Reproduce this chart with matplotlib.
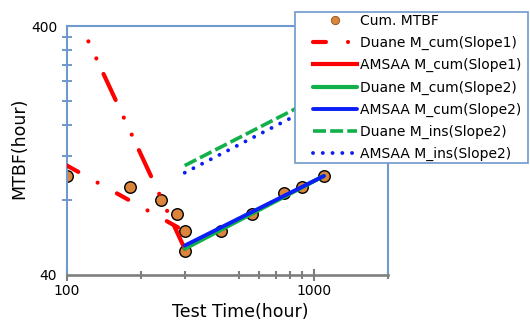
import matplotlib
matplotlib.use('Agg')
import matplotlib.pyplot as plt
from matplotlib.lines import Line2D
from matplotlib.patches import Rectangle
from matplotlib.ticker import NullFormatter

# cumulative MTBF observations
test_time = [100, 180, 240, 280, 300, 300, 420, 560, 760, 900, 1100]
cum_mtbf = [100, 90, 80, 70, 60, 50, 60, 70, 85, 90, 100]

# slope 1 fits (before t=300)
duane_t1 = [100, 300]
duane_cum1 = [110, 60]
amsaa_t1 = [120, 300]
amsaa_cum1 = [360, 51]

# slope 2 fits (after t=300)
t2 = [300, 1100]
duane_cum2 = [51, 100]
amsaa_cum2 = [52.5, 100]
duane_ins2 = [110, 213]
amsaa_ins2 = [103, 200]

x_major = [100, 1000]
x_major_labels = ['100', '1000']
x_minor = [200, 300, 500, 600, 700, 800, 900, 2000]
y_major = [40, 400]
y_major_labels = ['40', '400']
y_minor = [80, 120, 160, 200, 240, 280, 320, 360]

blue_axis = '#7099CD'
grey_axis = '#7F7F7F'
orange = '#DB853C'
red = '#FF0000'
green = '#12B04A'
blue = '#0A1EF5'

fig = plt.figure(figsize=(5.3, 3.22), dpi=100)
ax = fig.add_axes([67/530, 1-275/322, 321/530, 249/322])

ax.plot(test_time, cum_mtbf, ls='none', marker='o', ms=8.3, mfc=orange,
        mec='black', mew=1.0, zorder=2)

l_duane1, = ax.plot(duane_t1, duane_cum1, color=red, lw=3,
                    dashes=[3.1, 5.3, 0.01, 5.3], dash_capstyle='round', zorder=3)
ax.plot(amsaa_t1, amsaa_cum1, color=red, lw=3,
        linestyle=(10.5, (6.9, 4.65, 0.01, 4.5, 0.01, 4.1)),
        dash_capstyle='round', zorder=3)
l_duane2, = ax.plot(t2, duane_cum2, color=green, lw=3, solid_capstyle='round', zorder=3)
l_amsaa2, = ax.plot(t2, amsaa_cum2, color=blue, lw=2.8, solid_capstyle='round', zorder=4)
l_dins2, = ax.plot(t2, duane_ins2, color=green, lw=2.6, dashes=[3.6, 1.15], zorder=3)
l_ains2, = ax.plot(t2, amsaa_ins2, color=blue, lw=2.8, dashes=[0.01, 2.5],
                   dash_capstyle='round', zorder=3)

ax.set_xscale('log')
ax.set_yscale('log')
ax.set_xlim(100, 2000)
ax.set_ylim(40, 400)

ax.set_xticks(x_major, x_major_labels)
ax.set_xticks(x_minor, minor=True)
ax.xaxis.set_minor_formatter(NullFormatter())
ax.set_yticks(y_major, y_major_labels)
ax.set_yticks(y_minor, minor=True)
ax.yaxis.set_minor_formatter(NullFormatter())

ax.tick_params(axis='x', which='both', direction='inout', color=grey_axis,
               width=1.5, labelsize=10, pad=2)
ax.tick_params(axis='x', which='major', length=8.4)
ax.tick_params(axis='x', which='minor', length=5.3)
ax.tick_params(axis='y', which='both', direction='inout', color=blue_axis,
               width=1.4, labelsize=10)
ax.tick_params(axis='y', which='major', length=0, pad=7)
ax.tick_params(axis='y', which='minor', length=6.5)

for side in ['left', 'top', 'right']:
    ax.spines[side].set_color(blue_axis)
    ax.spines[side].set_linewidth(1.5)
ax.spines['bottom'].set_color(grey_axis)
ax.spines['bottom'].set_linewidth(1.9)

ax.set_xlabel('Test Time(hour)', fontsize=12.5, va='center')
ax.xaxis.set_label_coords(0.539, -0.147)
ax.set_ylabel('MTBF(hour)', fontsize=12.5, va='center')
ax.yaxis.set_label_coords(-0.1495, 0.51)

# legend box sits over the plot, partly outside the axes
fig.add_artist(Rectangle((295/530, 1-163/322), 233/530, 151/322,
                         transform=fig.transFigure, facecolor='white',
                         edgecolor=blue_axis, lw=1.2, zorder=1))

h_cum = Line2D([], [], ls='none', marker='o', ms=6, mfc=orange, mec='#8a5020', mew=0.6)
h_amsaa1 = Line2D([], [], color=red, lw=3)
handles = [h_cum, l_duane1, h_amsaa1, l_duane2, l_amsaa2, l_dins2, l_ains2]
labels = ['Cum. MTBF', 'Duane M_cum(Slope1)', 'AMSAA M_cum(Slope1)',
          'Duane M_cum(Slope2)', 'AMSAA M_cum(Slope2)',
          'Duane M_ins(Slope2)', 'AMSAA M_ins(Slope2)']
fig.legend(handles, labels, loc='upper left', bbox_to_anchor=(313/530, 1-14/322),
           frameon=False, borderpad=0, borderaxespad=0, handlelength=3.2,
           handletextpad=0.15, labelspacing=0.58, fontsize=10)

plt.savefig('out.png', dpi=100)
plt.close()
